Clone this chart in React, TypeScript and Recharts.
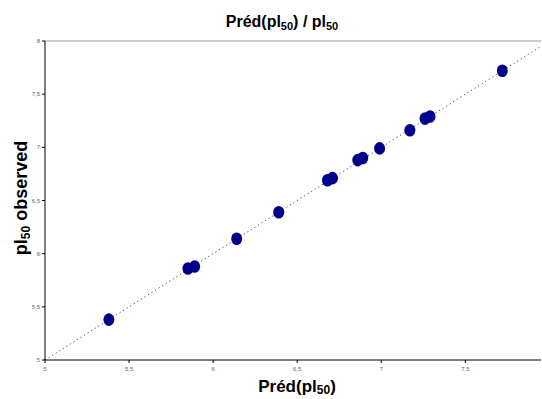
import { ReferenceLine, Scatter, ScatterChart, XAxis, YAxis } from "recharts";

const predicted = [5.38, 5.85, 5.89, 6.14, 6.39, 6.68, 6.71, 6.86, 6.89, 6.99, 7.17, 7.26, 7.29, 7.72];
const observed = [5.38, 5.86, 5.88, 6.14, 6.39, 6.69, 6.71, 6.88, 6.9, 6.99, 7.16, 7.27, 7.29, 7.72];
const xTicks = [5, 5.5, 6, 6.5, 7, 7.5];
const yTicks = [5, 5.5, 6, 6.5, 7, 7.5, 8];

const points = predicted.map((x, i) => ({ x, y: observed[i] }));

const fmt = (v: number) => String(v).replace(".", ",");
const FONT = "'Liberation Sans', Arial, sans-serif";

const Dot = (props: any) => (
  <ellipse cx={props.cx} cy={props.cy} rx={5.5} ry={6.3} fill="#00008b" />
);

export default function App() {
  return (
    <div style={{ position: "absolute", left: 0, top: 0, width: 542, height: 399, background: "#fff" }}>
      <ScatterChart width={542} height={399} margin={{ top: 41, right: 1, bottom: 0, left: 0 }}>
        <XAxis
          type="number"
          dataKey="x"
          domain={[5, 7.95]}
          ticks={xTicks}
          tickFormatter={fmt}
          height={39}
          stroke="#000"
          tickSize={3}
          tickMargin={4}
          tick={{ fontSize: 6, fill: "#666", fontFamily: FONT }}
          allowDataOverflow
        />
        <YAxis
          type="number"
          dataKey="y"
          domain={[5, 8]}
          ticks={yTicks}
          tickFormatter={fmt}
          width={45}
          stroke="#000"
          tickSize={3}
          tickMargin={2}
          tick={{ fontSize: 6, fill: "#666", fontFamily: FONT }}
          allowDataOverflow
        />
        <ReferenceLine y={8} stroke="#999" ifOverflow="extendDomain" />
        <ReferenceLine
          segment={[{ x: 5, y: 5 }, { x: 7.95, y: 7.95 }]}
          stroke="#444"
          strokeDasharray="1.2 3"
        />
        <Scatter data={points} shape={<Dot />} isAnimationActive={false} />
      </ScatterChart>
      <svg
        width={542}
        height={399}
        style={{ position: "absolute", left: 0, top: 0, pointerEvents: "none" }}
        fontFamily={FONT}
        fontWeight="bold"
      >
        <text x={282} y={27} textAnchor="middle" fontSize={16} fill="#000">
          Préd(pl<tspan fontSize={11} dy={3}>50</tspan>
          <tspan dy={-3}>) / pl</tspan>
          <tspan fontSize={11} dy={3}>50</tspan>
        </text>
        <text x={297} y={392} textAnchor="middle" fontSize={17} fill="#000">
          Préd(pl<tspan fontSize={12} dy={2}>50</tspan>
          <tspan dy={-2}>)</tspan>
        </text>
        <text
          x={0}
          y={0}
          transform="translate(27,198) rotate(-90)"
          textAnchor="middle"
          fontSize={18}
          fill="#000"
        >
          pl<tspan fontSize={12} dy={3}>50</tspan>
          <tspan dy={-3}> observed</tspan>
        </text>
      </svg>
    </div>
  );
}
